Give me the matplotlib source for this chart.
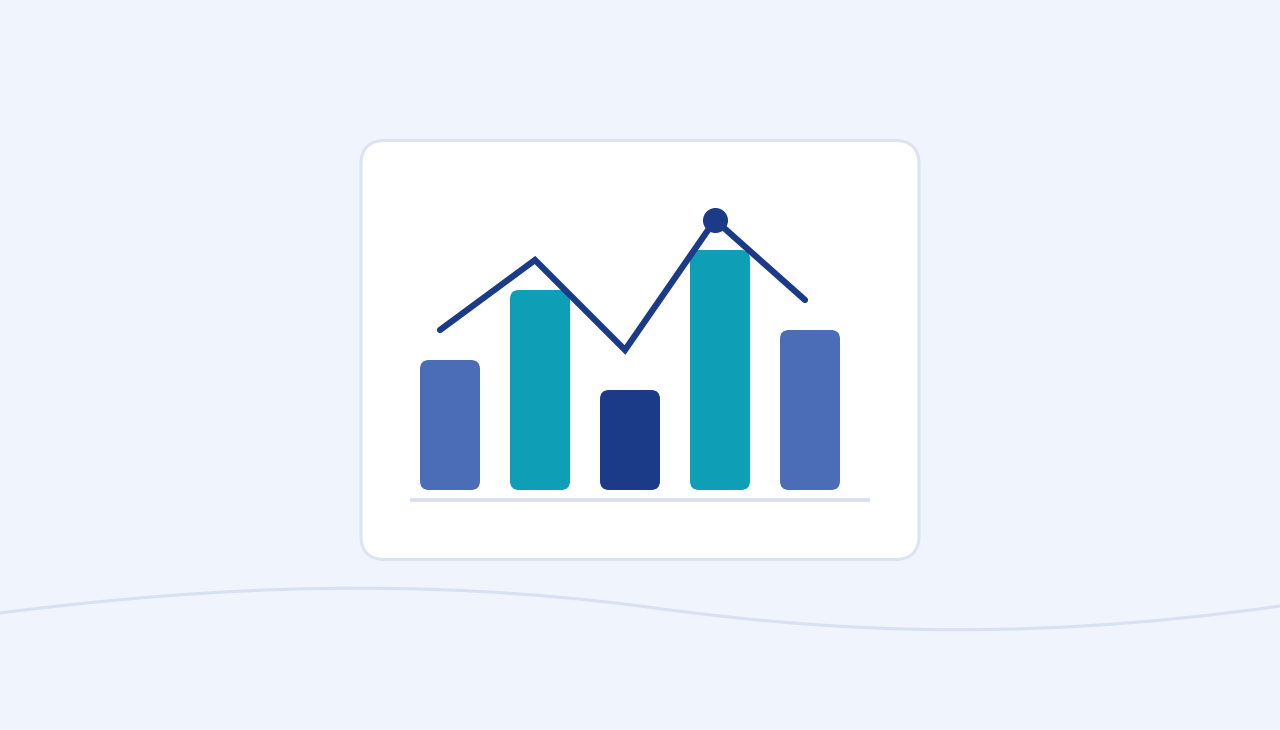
import matplotlib
matplotlib.use("Agg")
import matplotlib.pyplot as plt
from matplotlib.patches import FancyBboxPatch, PathPatch
from matplotlib.path import Path

# --- data (pixel-space illustration) ---
bar_x = [450, 540, 630, 720, 810]          # bar centres
bar_heights = [130, 200, 100, 240, 160]     # bar heights above baseline
bar_colors = ["#4B6CB7", "#0E9FB7", "#1B3A87", "#0E9FB7", "#4B6CB7"]
line_x = [440, 535, 625, 715, 805]
line_y = [330, 260, 350, 220, 300]
highlight_index = 3

BG = "#F0F5FD"
BORDER = "#DCE4F2"
NAVY = "#1B3A87"

fig = plt.figure(figsize=(12.8, 7.3), dpi=100)
fig.patch.set_facecolor(BG)
ax = fig.add_axes([0, 0, 1, 1])
ax.set_xlim(0, 1280)
ax.set_ylim(730, 0)
ax.axis("off")
ax.set_facecolor(BG)

# wave
verts = [(0, 613), (220, 585), (420, 578), (640, 606),
         (800, 628), (1000, 646), (1280, 606)]
codes = [Path.MOVETO, Path.CURVE4, Path.CURVE4, Path.CURVE4,
         Path.CURVE4, Path.CURVE4, Path.CURVE4]
ax.add_patch(PathPatch(Path(verts, codes), fill=False, edgecolor="#D8E1F2",
                       lw=2.2, zorder=1))

# card
card = FancyBboxPatch((361 + 24, 140.5 + 24), 558 - 48, 419 - 48,
                      boxstyle="round,pad=24", facecolor="white",
                      edgecolor=BORDER, lw=2.2, zorder=2)
ax.add_patch(card)

# baseline
baseline = 490
ax.plot([410, 870], [500, 500], color="#D9E1F0", lw=2.8,
        solid_capstyle="butt", zorder=3)

# bars
bw = 60
r = 9
for cx, h, c in zip(bar_x, bar_heights, bar_colors):
    x0 = cx - bw / 2
    y0 = baseline - h
    ax.add_patch(FancyBboxPatch((x0 + r, y0 + r), bw - 2 * r, h - 2 * r,
                                boxstyle=f"round,pad={r}", facecolor=c,
                                edgecolor="none", zorder=4))

# line
ax.plot(line_x, line_y, color=NAVY, lw=4.5, solid_capstyle="round",
        solid_joinstyle="miter", zorder=5)
ax.plot([line_x[highlight_index]], [line_y[highlight_index]], "o",
        color=NAVY, ms=17, zorder=6)

fig.savefig("out.png", dpi=100, facecolor=BG)
